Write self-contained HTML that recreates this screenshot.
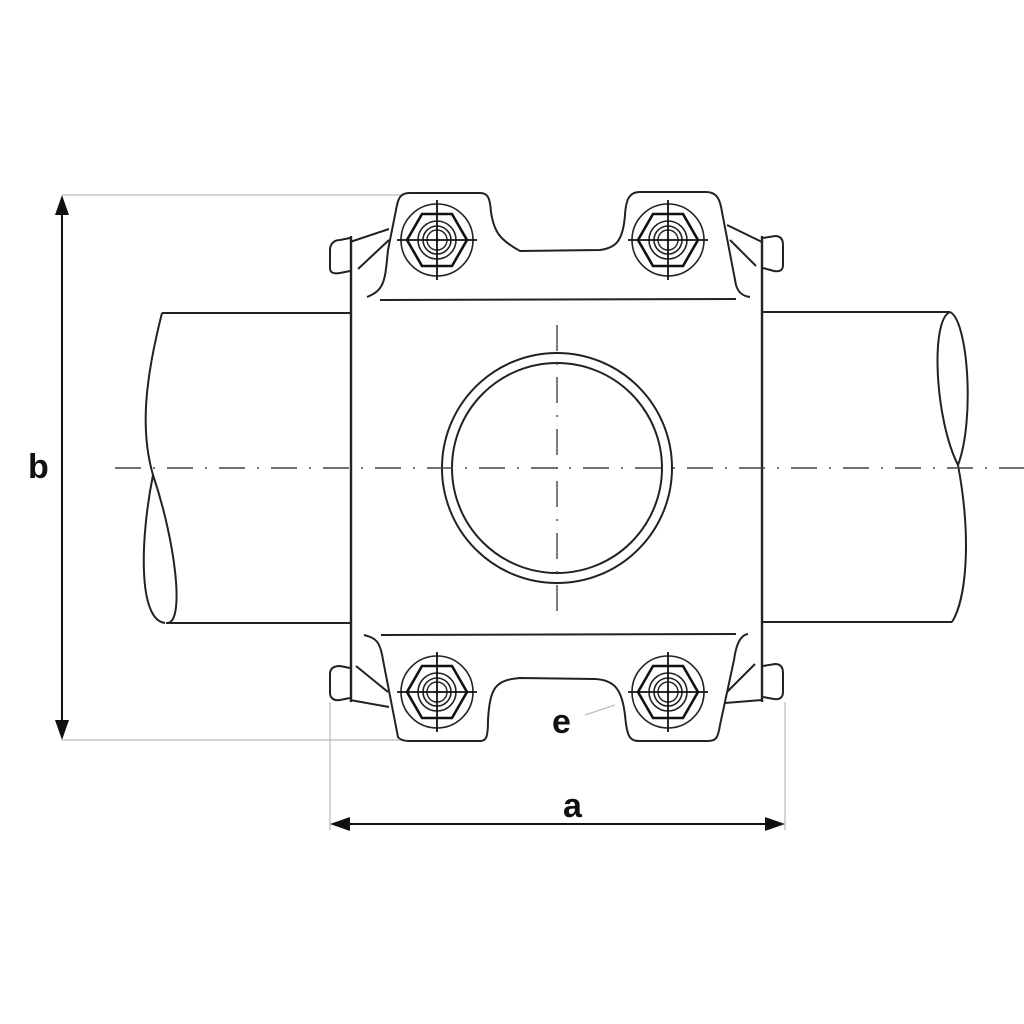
<!DOCTYPE html>
<html><head><style>body{margin:0;background:#fff}svg{display:block}</style></head><body>
<svg width="1024" height="1024" viewBox="0 0 1024 1024" xmlns="http://www.w3.org/2000/svg">
<rect width="1024" height="1024" fill="#fff"/>
<defs>
<g id="nut">
<circle r="36" fill="none" stroke="#222" stroke-width="1.6"/>
<polygon points="30,0 15,26 -15,26 -30,0 -15,-26 15,-26" fill="none" stroke="#111" stroke-width="2.6"/>
<circle r="19" fill="none" stroke="#222" stroke-width="1.6"/>
<circle r="14" fill="none" stroke="#222" stroke-width="1.6"/>
<circle r="10" fill="none" stroke="#222" stroke-width="1.4"/>
<line x1="-40" y1="0" x2="40" y2="0" stroke="#111" stroke-width="1.8"/>
<line x1="0" y1="-40" x2="0" y2="40" stroke="#111" stroke-width="1.8"/>
<circle r="1.5" fill="#111"/>
</g>
</defs>
<g fill="none" stroke="#222" stroke-width="2">
<!-- pipes -->
<line x1="162" y1="313" x2="350" y2="313"/>
<line x1="166" y1="623" x2="350" y2="623"/>
<path d="M162,313 C145,380 140,430 153,475 C140,540 138,620 165,623 M153,475 C175,540 185,620 168,623"/>
<line x1="763" y1="312" x2="950" y2="312"/>
<line x1="763" y1="622" x2="952" y2="622"/>
<path d="M950,312 C930,320 935,420 958,465 C975,420 968,320 950,312 M958,465 C972,540 966,600 952,622"/>
<!-- body -->
<line x1="351" y1="236" x2="351" y2="702" stroke-width="2.4"/>
<line x1="762" y1="236" x2="762" y2="702" stroke-width="2.4"/>
<!-- top clamp -->
<path d="M367,297 C385,290 385,280 388,250 L397,205 C399,196 402,193 410,193 L480,193 C488,193 490,198 491,212 C494,232 500,240 520,251 L600,250 C615,248 623,242 625,215 C626,198 630,192 640,192 L706,192 C716,192 720,198 722,212 L736,285 C738,292 742,296 750,297"/>
<line x1="380" y1="300" x2="736" y2="299"/>
<!-- bottom clamp -->
<path d="M364,635 C375,638 380,640 383,660 L398,737 C400,740 404,741 410,741 L480,741 C486,741 488,738 488,720 C490,688 495,680 520,678 L595,679 C615,680 622,690 625,715 C627,738 630,741 640,741 L708,741 C716,741 718,738 720,725 L734,660 C736,645 740,635 748,634"/>
<line x1="381" y1="635" x2="736" y2="634"/>
<!-- side diag lines -->
<path d="M350,242 L389,229 M358,269 L389,240"/>
<path d="M762,242 L727,225 M756,266 L730,240"/>
<path d="M350,700 L389,707 M356,666 L388,692"/>
<path d="M762,700 L725,703 M755,664 L727,692"/>
<!-- lugs -->
<path d="M350,238 L340,240 C333,240 330,245 330,250 L330,268 C330,273 334,274 340,273 L350,271"/>
<path d="M763,238 L775,236 C781,236 783,240 783,245 L783,265 C783,270 780,272 774,271 L763,268"/>
<path d="M350,668 L340,666 C333,666 330,669 330,674 L330,693 C330,698 334,701 340,700 L350,698"/>
<path d="M763,666 L775,664 C781,664 783,668 783,673 L783,692 C783,697 780,700 774,699 L763,697"/>
<!-- center ring -->
<circle cx="557" cy="468" r="115"/>
<circle cx="557" cy="468" r="105"/>
</g>
<use href="#nut" x="437" y="240"/>
<use href="#nut" x="668" y="240"/>
<use href="#nut" x="437" y="692"/>
<use href="#nut" x="668" y="692"/>
<!-- centerlines -->
<line x1="115" y1="468" x2="1024" y2="468" stroke="#444" stroke-width="1.4" stroke-dasharray="26,12,2,12"/>
<line x1="557" y1="325" x2="557" y2="612" stroke="#444" stroke-width="1.4" stroke-dasharray="26,12,2,12"/>
<!-- dimension extension lines -->
<g stroke="#bbb" stroke-width="1.2">
<line x1="62" y1="195" x2="400" y2="195"/>
<line x1="62" y1="740" x2="400" y2="740"/>
<line x1="330" y1="702" x2="330" y2="830"/>
<line x1="785" y1="702" x2="785" y2="830"/>
<line x1="585" y1="715" x2="615" y2="705"/>
</g>
<g stroke="#111" stroke-width="2">
<line x1="62" y1="205" x2="62" y2="730"/>
<line x1="340" y1="824" x2="775" y2="824"/>
</g>
<polygon points="62,195 55,215 69,215" fill="#111"/>
<polygon points="62,740 55,720 69,720" fill="#111"/>
<polygon points="330,824 350,817 350,831" fill="#111"/>
<polygon points="785,824 765,817 765,831" fill="#111"/>
<g font-family="Liberation Sans, sans-serif" font-weight="bold" font-size="34" fill="#111">
<text x="28" y="478">b</text>
<text x="563" y="817">a</text>
<text x="552" y="733">e</text>
</g>
</svg>
</body></html>
